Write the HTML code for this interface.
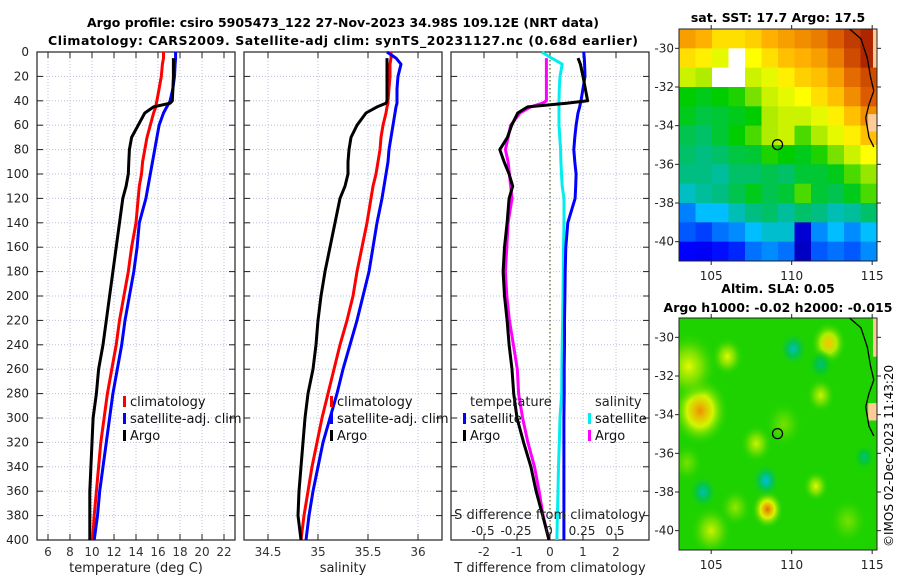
<!DOCTYPE html>
<html><head><meta charset="utf-8">
<style>
html,body{margin:0;padding:0;background:#fff;}
svg{display:block;font-family:"DejaVu Sans","Liberation Sans",sans-serif;}
</style></head>
<body>
<svg id="fig" width="900" height="580" viewBox="0 0 900 580" xmlns="http://www.w3.org/2000/svg">
<text x="343" y="27" text-anchor="middle" font-weight="bold" font-size="12.5" textLength="512">Argo profile: csiro 5905473_122 27-Nov-2023 34.98S 109.12E (NRT data)</text>
<text x="343" y="45" text-anchor="middle" font-weight="bold" font-size="12.5" textLength="590">Climatology: CARS2009. Satellite-adj clim: synTS_20231127.nc (0.68d earlier)</text>
<text x="778" y="22" text-anchor="middle" font-weight="bold" font-size="12.5">sat. SST: 17.7 Argo: 17.5</text>
<text x="778" y="293" text-anchor="middle" font-weight="bold" font-size="12.5">Altim. SLA: 0.05</text>
<text x="778" y="312" text-anchor="middle" font-weight="bold" font-size="12.5">Argo h1000: -0.02 h2000: -0.015</text>
<text transform="translate(893,547) rotate(-90)" font-size="12">©IMOS 02-Dec-2023 11:43:20</text>
<g id="layer"></g>
</svg>
<script>
// ---------- DATA ----------
const depths=[0,5,10,20,30,40,42,45,50,60,70,80,90,100,110,120,140,160,180,200,220,240,260,280,300,320,340,360,380,400];
const tempClim=[16.5,16.5,16.4,16.3,16.1,15.9,15.85,15.8,15.6,15.3,15.0,14.8,14.6,14.5,14.3,14.2,14.0,13.6,13.3,12.9,12.5,12.2,11.8,11.4,11.1,10.8,10.6,10.4,10.2,10.06];
const tempSat=[17.6,17.6,17.55,17.5,17.35,17.1,17.0,16.8,16.5,16.1,15.9,15.7,15.5,15.3,15.1,14.9,14.3,14.1,13.8,13.4,13.0,12.7,12.3,11.9,11.6,11.3,11.0,10.7,10.5,10.2];
const tempArgo=[null,17.4,17.4,17.4,17.35,17.3,17.1,15.6,14.8,14.2,13.6,13.4,13.35,13.3,13.1,12.8,12.5,12.2,11.9,11.6,11.3,11.0,10.6,10.4,10.1,10.0,9.9,9.8,9.8,9.8];
const salClim=[35.73,35.73,35.72,35.72,35.71,35.70,35.70,35.69,35.68,35.65,35.63,35.62,35.60,35.58,35.55,35.53,35.49,35.44,35.39,35.35,35.29,35.22,35.16,35.10,35.04,34.99,34.94,34.90,34.86,34.83];
const salSat=[35.69,35.78,35.83,35.80,35.79,35.79,35.79,35.78,35.77,35.75,35.73,35.71,35.70,35.68,35.66,35.64,35.59,35.55,35.51,35.45,35.39,35.32,35.25,35.19,35.12,35.05,35.00,34.95,34.91,34.88];
const salArgo=[null,35.69,35.69,35.69,35.69,35.69,35.68,35.59,35.48,35.39,35.33,35.31,35.30,35.30,35.27,35.22,35.17,35.12,35.07,35.03,35.00,34.98,34.95,34.90,34.87,34.85,34.83,34.81,34.80,34.83];
const dTArgo=[null,0.85,0.92,1.0,1.07,1.14,0.5,-0.68,-0.98,-1.16,-1.29,-1.52,-1.39,-1.24,-1.13,-1.24,-1.3,-1.38,-1.42,-1.38,-1.3,-1.24,-1.15,-1.1,-1.0,-0.8,-0.58,-0.42,-0.22,-0.03];
const dTSat=[1.02,1.04,1.05,1.06,1.0,0.94,0.92,0.9,0.85,0.79,0.75,0.72,0.75,0.79,0.78,0.76,0.54,0.48,0.46,0.45,0.44,0.44,0.43,0.43,0.42,0.42,0.42,0.42,0.42,0.42];
const dSArgo=[null,-0.02,-0.02,-0.02,-0.02,-0.02,-0.05,-0.14,-0.22,-0.29,-0.31,-0.33,-0.31,-0.30,-0.29,-0.28,-0.31,-0.32,-0.33,-0.32,-0.30,-0.27,-0.24,-0.23,-0.20,-0.16,-0.11,-0.075,-0.045,0];
const dSSat=[-0.055,0.02,0.10,0.083,0.078,0.076,0.076,0.076,0.076,0.076,0.082,0.088,0.09,0.095,0.1,0.114,0.114,0.11,0.108,0.106,0.104,0.1,0.098,0.096,0.083,0.078,0.072,0.068,0.064,0.06];
const depthTicks=[0,20,40,60,80,100,120,140,160,180,200,220,240,260,280,300,320,340,360,380,400];
const tempTicks=[6,8,10,12,14,16,18,20,22];
const salTicks=[34.5,35,35.5,36];
const salTickLabels=["34.5","35","35.5","36"];
const dTTicks=[-2,-1,0,1,2];
const dSTicks=[-0.5,-0.25,0,0.25,0.5];
const dSTickLabels=["-0.5","-0.25","0","0.25","0.5"];
const latTicks=[-30,-32,-34,-36,-38,-40];
const lonTicks=[105,110,115];
// SST map grid (colour index 0..1), rows north->south from -29 to -41, cols 103 -> 115.3; null = no data
const sstGrid=[
[.80,.78,.72,.72,.74,.78,.80,.82,.84,.88,.92,.95],
[.72,.70,.66,null,.68,.72,.76,.78,.80,.84,.90,.95],
[.64,.62,null,null,.64,.66,.70,.74,.76,.80,.86,.90],
[.50,.48,.50,.52,.58,.64,.66,.68,.72,.76,.82,.88],
[.48,.45,.46,.48,.50,.62,.64,.64,.66,.70,.76,.82],
[.44,.42,.46,.50,.55,.62,.64,.55,.62,.66,.70,.76],
[.42,.40,.42,.45,.46,.52,.50,.48,.52,.58,.64,.68],
[.40,.40,.38,.42,.42,.44,.42,.46,.46,.48,.55,.60],
[.35,.38,.40,.44,.48,.44,.46,.55,.46,.44,.48,.55],
[.25,.30,.30,.36,.40,.42,.38,.42,.40,.36,.38,.42],
[.22,.20,.24,.26,.30,.34,.34,.10,.26,.30,.26,.30],
[.15,.14,.16,.18,.24,.26,.24,.08,.22,.24,.22,.26]];
// SLA anomaly blobs
const slaLon=[104.3,103.6,112.3,110.1,108.5,108.4,104.5,106.0,107.8,111.8,111.8,114.5,105.0,111.5,103.5,109.5,113.5,106.5];
const slaLat=[-33.8,-31.5,-30.3,-30.6,-38.9,-37.4,-38.0,-31.0,-35.5,-33.0,-31.4,-36.2,-40.0,-37.7,-36.5,-34.5,-39.5,-38.8];
const slaVal=[0.82,0.66,0.76,0.35,0.86,0.32,0.36,0.66,0.64,0.64,0.40,0.40,0.64,0.66,0.58,0.58,0.58,0.6];
const slaRad=[1.8,1.8,1.1,0.9,1.0,0.9,0.9,1.0,1.0,0.9,0.8,0.7,1.3,0.8,1.0,1.2,1.2,1.0];
const coastLon=[113.6,114.3,114.7,114.9,115.1,114.8,114.6,114.8,115.1];
const coastLat=[-29,-29.5,-30.5,-31.5,-32.2,-32.9,-33.6,-34.6,-35.1];
const argoLon=109.12, argoLat=-34.98;

// ---------- HELPERS ----------
const NS="http://www.w3.org/2000/svg";
const L=document.getElementById('layer');
function mk(tag,attrs,parent){const e=document.createElementNS(NS,tag);for(const k in attrs)e.setAttribute(k,attrs[k]);(parent||L).appendChild(e);return e;}
const cmapStops=[[0,[0,0,128]],[0.15,[0,0,255]],[0.3,[0,190,255]],[0.4,[0,190,130]],[0.5,[0,205,0]],[0.6,[150,230,0]],[0.68,[255,255,0]],[0.78,[255,176,0]],[0.88,[220,90,0]],[1,[140,0,0]]];
function jet(v){v=Math.max(0,Math.min(1,v));for(let i=1;i<cmapStops.length;i++){const a=cmapStops[i-1],b=cmapStops[i];if(v<=b[0]){const t=(v-a[0])/(b[0]-a[0]);const c=a[1].map((x,k)=>Math.round(x+(b[1][k]-x)*t));return `rgb(${c[0]},${c[1]},${c[2]})`;}}return 'rgb(140,0,0)';}

const yTop=52,yBot=540;
const yD=d=>yTop+(d/400)*(yBot-yTop);
const panels=[
 {name:'temperature',x0:37,x1:235,min:5,max:23},
 {name:'salinity',x0:244,x1:442,min:34.26,max:36.24},
 {name:'difference',x0:451,x1:649,min:-3,max:3}];
const sx=(p,v)=>p.x0+(v-p.min)/(p.max-p.min)*(p.x1-p.x0);
const xS=v=>549+v*132;

function drawFrame(p,ticks,labels){
  depthTicks.forEach(d=>{
    const gl=mk('line',{x1:p.x0,x2:p.x1,y1:yD(d),y2:yD(d),stroke:'#b8c0dc','stroke-dasharray':'1,2','stroke-width':1});
    
    
    const t1=mk('line',{x1:p.x0,x2:p.x0+6,y1:yD(d),y2:yD(d),stroke:'#222'});
    
    
    const t2=mk('line',{x1:p.x1-6,x2:p.x1,y1:yD(d),y2:yD(d),stroke:'#222'});
    
    
  });
  ticks.forEach((v,i)=>{
    const x=sx(p,v);
    if(!(p.name==='difference'&&v===0)){
      const gl=mk('line',{x1:x,x2:x,y1:yTop,y2:yBot,stroke:'#b8c0dc','stroke-dasharray':'1,2','stroke-width':1});
      
      
    }
    const t1=mk('line',{x1:x,x2:x,y1:yBot-6,y2:yBot,stroke:'#222'});
    
    
    const t2=mk('line',{x1:x,x2:x,y1:yTop,y2:yTop+6,stroke:'#222'});
    
    
    const tl=mk('text',{x:x,y:556,'text-anchor':'middle','font-size':12,fill:'#333'});
    tl.textContent=labels?labels[i]:String(v);
    
    
  });
  const r=mk('rect',{x:p.x0,y:yTop,width:p.x1-p.x0,height:yBot-yTop,fill:'none',stroke:'#222','stroke-width':1.2});
  
  
}
function drawLine(p,vals,color,name,fx){
  let d='';
  vals.forEach((v,i)=>{if(v===null)return;const x=fx?fx(v):sx(p,v);d+=(d?'L':'M')+x.toFixed(1)+','+yD(depths[i]).toFixed(1);});
  const e=mk('path',{d:d,fill:'none',stroke:color,'stroke-width':3,'stroke-linejoin':'round'});
  
  
}
function legendEntry(x,y,color,label,name){
  const m=mk('rect',{x:x,y:y-10,width:3,height:11,fill:color});
  
  
  const t=mk('text',{x:x+7,y:y,'font-size':13,fill:'#111'});
  t.textContent=label;
  
  
}
function txt(x,y,s,name,anchor,size){const t=mk('text',{x:x,y:y,'text-anchor':anchor||'middle','font-size':size||13,fill:'#222'});t.textContent=s;return t;}

depthTicks.forEach(d=>{txt(29,yD(d)+4,String(d),'depth-tick-label','end',12);});

const P1=panels[0];
drawFrame(P1,tempTicks);
drawLine(P1,tempClim,'#ff0000','temp-climatology-line');
drawLine(P1,tempSat,'#0000ff','temp-satellite-line');
drawLine(P1,tempArgo,'#000000','temp-argo-line');
legendEntry(123,406,'#ff0000','climatology','legend-entry-climatology');
legendEntry(123,423,'#0000ff','satellite-adj. clim','legend-entry-satellite');
legendEntry(123,440,'#000000','Argo','legend-entry-argo');
txt(136,572,'temperature (deg C)','temperature-x-axis-title');

const P2=panels[1];
drawFrame(P2,salTicks,salTickLabels);
drawLine(P2,salClim,'#ff0000','sal-climatology-line');
drawLine(P2,salSat,'#0000ff','sal-satellite-line');
drawLine(P2,salArgo,'#000000','sal-argo-line');
legendEntry(330,406,'#ff0000','climatology','legend-entry-sal-climatology');
legendEntry(330,423,'#0000ff','satellite-adj. clim','legend-entry-sal-satellite');
legendEntry(330,440,'#000000','Argo','legend-entry-sal-argo');
txt(343,572,'salinity','salinity-x-axis-title');

const P3=panels[2];
drawFrame(P3,dTTicks);
const zl=mk('line',{x1:sx(P3,0),x2:sx(P3,0),y1:yTop,y2:yBot,stroke:'#556633','stroke-dasharray':'1.5,2.5','stroke-width':1.3});


drawLine(P3,dSSat,'#00eeee','dS-satellite-line',xS);
drawLine(P3,dTSat,'#0000ff','dT-satellite-line');
drawLine(P3,dSArgo,'#ff00ff','dS-argo-line',xS);
drawLine(P3,dTArgo,'#000000','dT-argo-line');
txt(470,406,'temperature','legend-title-temperature','start');
legendEntry(463,423,'#0000ff','satellite','legend-entry-dT-satellite');
legendEntry(463,440,'#000000','Argo','legend-entry-dT-argo');
txt(595,406,'salinity','legend-title-salinity','start');
legendEntry(588,423,'#00eeee','satellite','legend-entry-dS-satellite');
legendEntry(588,440,'#ff00ff','Argo','legend-entry-dS-argo');
txt(550,519,'S difference from climatology','s-diff-axis-title');
dSTicks.forEach((v,i)=>{txt(xS(v),535,dSTickLabels[i],'s-diff-tick-label','middle',12);});
txt(550,572,'T difference from climatology','t-diff-x-axis-title');

// ---------- MAPS ----------
function drawMap(m){
  const lx=lon=>m.x0+(lon-103)/(115.3-103)*(m.x1-m.x0);
  const ly=lat=>m.y0+(-29-lat)/12*(m.y1-m.y0);
  const g=mk('g',{});
  
  
  const cp=mk('clipPath',{id:m.name+'-clip'},g);
  mk('rect',{x:m.x0,y:m.y0,width:m.x1-m.x0,height:m.y1-m.y0},cp);
  const inner=mk('g',{'clip-path':`url(#${m.name}-clip)`},g);
  m.draw(inner,lx,ly);
  let cd='';
  coastLon.forEach((lo,i)=>{cd+=(i?'L':'M')+lx(lo).toFixed(1)+','+ly(coastLat[i]).toFixed(1);});
  const land=mk('path',{d:`M${lx(115.05)},${m.y0}L${m.x1},${m.y0}L${m.x1},${ly(-31)}L${lx(115.05)},${ly(-31)}Z M${lx(114.75)},${ly(-33.4)}L${m.x1},${ly(-33.4)}L${m.x1},${ly(-34.3)}L${lx(114.75)},${ly(-34.3)}Z`,fill:'#ffcc99'},inner);
  
  
  const coast=mk('path',{d:cd,fill:'none',stroke:'#000','stroke-width':1.3},inner);
  
  
  const c=mk('circle',{cx:lx(argoLon),cy:ly(argoLat),r:5,fill:'none',stroke:'#000','stroke-width':1.3},g);
  
  
  const fr=mk('rect',{x:m.x0,y:m.y0,width:m.x1-m.x0,height:m.y1-m.y0,fill:'none',stroke:'#222','stroke-width':1},g);
  
  
  latTicks.forEach(lat=>{
    const y=ly(lat);
    const t=mk('line',{x1:m.x1,x2:m.x1+4,y1:y,y2:y,stroke:'#222'},g);
    
    
    const t2=mk('line',{x1:m.x0-4,x2:m.x0,y1:y,y2:y,stroke:'#222'},g);
    
    
    txt(m.x0-5,y+4,String(lat),'lat-tick-label','end',12);
  });
  lonTicks.forEach(lon=>{
    const x=lx(lon);
    const t=mk('line',{x1:x,x2:x,y1:m.y1,y2:m.y1+4,stroke:'#222'},g);
    
    
    const t2=mk('line',{x1:x,x2:x,y1:m.y0-4,y2:m.y0,stroke:'#222'},g);
    
    
    txt(x,m.y1+19,String(lon),'lon-tick-label','middle',12);
  });
}
drawMap({name:'sst-map',x0:679,x1:877,y0:29,y1:261,draw:(g,lx,ly)=>{
  const rows=sstGrid.length,cols=sstGrid[0].length;
  sstGrid.forEach((row,r)=>row.forEach((v,c)=>{
    const x0=lx(103+c*(12.3/cols)),x1=lx(103+(c+1)*(12.3/cols));
    const y0=ly(-29-r*(12/rows)),y1=ly(-29-(r+1)*(12/rows));
    const cell=mk('rect',{x:x0,y:y0,width:x1-x0+0.5,height:y1-y0+0.5,fill:v===null?'#ffffff':jet(v)},g);
    
    
  }));
}});
drawMap({name:'sla-map',x0:679,x1:877,y0:318,y1:550,draw:(g,lx,ly)=>{
  const bg=mk('rect',{x:679,y:318,width:198,height:232,fill:jet(0.52)},g);
  
  
  const defs=mk('defs',{},g);
  slaLon.forEach((lo,i)=>{
    const id='slag'+i;
    const rg=mk('radialGradient',{id:id},defs);
    mk('stop',{offset:'0%','stop-color':jet(slaVal[i]),'stop-opacity':1},rg);
    mk('stop',{offset:'45%','stop-color':jet((slaVal[i]+0.52)/2),'stop-opacity':0.85},rg);
    mk('stop',{offset:'100%','stop-color':jet(0.52),'stop-opacity':0},rg);
    const rx=(lx(lo+slaRad[i])-lx(lo)), ry=(ly(slaLat[i]-slaRad[i])-ly(slaLat[i]));
    const e=mk('ellipse',{cx:lx(lo),cy:ly(slaLat[i]),rx:rx,ry:ry,fill:`url(#${id})`},g);
    
    
  });
}});
</script>
</body></html>
